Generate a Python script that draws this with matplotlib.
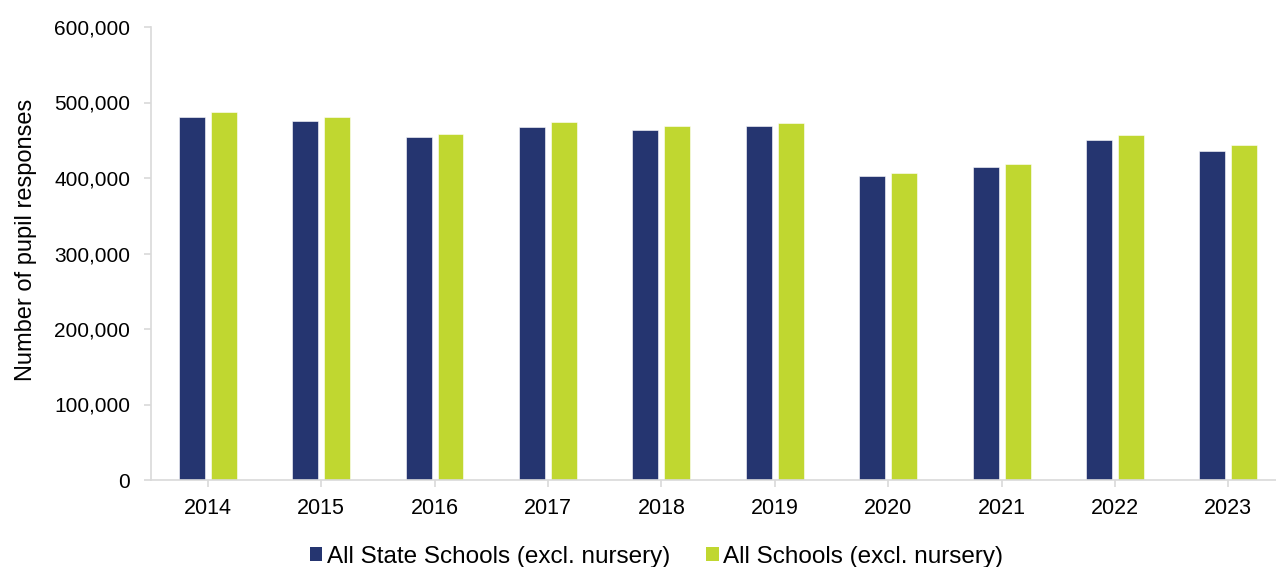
import matplotlib
matplotlib.use("Agg")
import matplotlib.pyplot as plt
from matplotlib.ticker import FuncFormatter
from matplotlib.patches import Patch
import numpy as np

years = ["2014", "2015", "2016", "2017", "2018", "2019", "2020", "2021", "2022", "2023"]
state_schools = [480800, 475100, 454300, 467500, 463100, 469300, 402600, 414600, 450300, 435800]
all_schools = [487400, 480800, 458700, 473800, 469300, 473300, 406600, 419000, 457400, 444100]
series_labels = ["All State Schools (excl. nursery)", "All Schools (excl. nursery)"]
y_ticks = [0, 100000, 200000, 300000, 400000, 500000, 600000]

navy = "#253570"
lime = "#c0d730"
grey = "#d9d9d9"

plt.rcParams["font.family"] = ["Liberation Sans", "DejaVu Sans"]

fig = plt.figure(figsize=(12.76, 5.67), dpi=100)
ax = fig.add_axes([151 / 1276, 87 / 567, 1 - 151 / 1276, 453 / 567])

x = np.arange(len(years))
width = 0.229
offset = 0.141
ax.bar(x - offset, state_schools, width, color=navy, edgecolor="white", linewidth=0.4)
ax.bar(x + offset, all_schools, width, color=lime, edgecolor="white", linewidth=0.4)

ax.set_xlim(-0.5, 9.42)
ax.set_ylim(0, 600000)
ax.set_yticks(y_ticks)
ax.yaxis.set_major_formatter(FuncFormatter(lambda v, p: f"{int(v):,}"))
ax.set_xticks(x)
ax.set_xticklabels(years)

for side in ("top", "right"):
    ax.spines[side].set_visible(False)
for side in ("left", "bottom"):
    ax.spines[side].set_color(grey)
    ax.spines[side].set_linewidth(1.2)

ax.tick_params(axis="both", colors=grey, labelcolor="black",
               length=5, width=1.2, direction="out")
ax.tick_params(axis="y", pad=10, labelsize=15)
ax.tick_params(axis="x", pad=8, labelsize=15.5)

ax.set_ylabel("Number of pupil responses", fontsize=17)
ax.yaxis.set_label_coords(-0.101, 0.53)

handles = [Patch(facecolor=navy), Patch(facecolor=lime)]
fig.legend(handles, series_labels, loc="center", bbox_to_anchor=(0.5145, 0.018),
           ncol=2, frameon=False, fontsize=17.5, handlelength=0.5, handleheight=0.5,
           handletextpad=0.18, columnspacing=1.5, borderpad=0, borderaxespad=0)

fig.savefig("out.png", dpi=100)
